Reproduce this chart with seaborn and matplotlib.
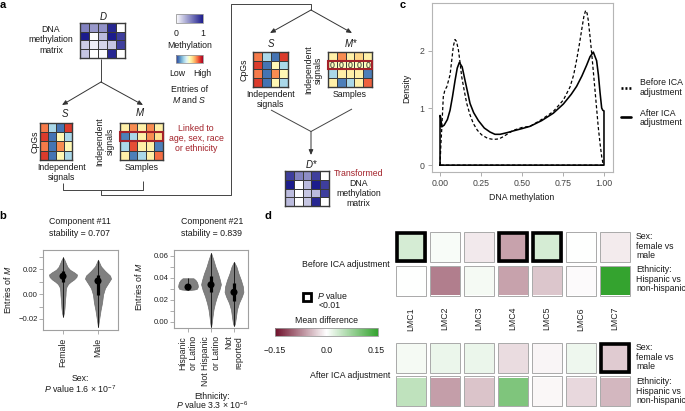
import numpy as np
import pandas as pd
import matplotlib
matplotlib.use("Agg")
import matplotlib.pyplot as plt
import seaborn as sns
from matplotlib.colors import LinearSegmentedColormap, Normalize
from matplotlib.cm import ScalarMappable
from matplotlib.patches import Rectangle

sns.set_theme(style="white")
plt.rcParams['font.family'] = ['Liberation Sans', 'DejaVu Sans']
plt.rcParams['mathtext.fontset'] = 'custom'
plt.rcParams['mathtext.rm'] = 'Liberation Sans'
plt.rcParams['mathtext.it'] = 'Liberation Sans:italic'
plt.rcParams['mathtext.bf'] = 'Liberation Sans:bold'
plt.rcParams['axes.unicode_minus'] = True

# ---------------- data ----------------
# panel a: schematic matrices
D_matrix = [[0.55, 0.45, 0.48, 0.95, 0.0],
            [1.0, 0.0, 0.3, 1.0, 0.85],
            [0.22, 0.08, 0.18, 0.25, 0.85],
            [0.25, 0.0, 0.03, 0.95, 0.0]]
S_matrix = [[0.78, 0.3, 0.1, 0.88],
            [0.88, 0.1, 0.52, 0.3],
            [0.78, 0.1, 0.75, 0.52],
            [0.88, 0.1, 0.52, 0.3]]
M_matrix = [[0.55, 0.75, 0.55, 0.75, 0.55],
            [0.12, 0.3, 0.55, 0.75, 0.6],
            [0.3, 0.85, 0.55, 0.55, 0.12],
            [0.55, 0.12, 0.3, 0.55, 0.8]]
Mstar_matrix = [[0.55, 0.75, 0.55, 0.62, 0.55],
                [0.5, 0.5, 0.5, 0.5, 0.5],
                [0.3, 0.55, 0.55, 0.55, 0.12],
                [0.55, 0.12, 0.3, 0.55, 0.82]]
Mstar_annot = [["", "", "", "", ""],
               ["0", "0", "0", "0", "0"],
               ["", "", "", "", ""],
               ["", "", "", "", ""]]
Dstar_matrix = [[0.85, 0.55, 0.5, 0.85, 0.0],
                [1.0, 0.0, 0.3, 1.0, 0.85],
                [0.3, 0.0, 0.25, 0.3, 0.85],
                [0.3, 0.0, 0.25, 0.95, 0.0]]

# panel b: violin profiles (y value, relative density)
sex_groups = ["Female", "Male"]
female_y = [0.0298, 0.0275, 0.0248, 0.0220, 0.0197, 0.0177, 0.0159, 0.0140, 0.0120,
            0.0100, 0.0082, 0.0060, 0.0044, 0.0020, -0.0008, -0.0050, -0.0110, -0.0150, -0.0182]
female_d = [0.0, 0.11, 0.21, 0.32, 0.50, 0.79, 1.0, 0.96, 0.79, 0.54, 0.36, 0.25, 0.21,
            0.19, 0.18, 0.14, 0.11, 0.07, 0.0]
male_y = [0.0279, 0.0250, 0.0225, 0.0188, 0.0150, 0.0126, 0.0087, 0.0049, -0.0003,
          -0.0067, -0.0130, -0.0210, -0.0267]
male_d = [0.0, 0.11, 0.21, 0.50, 0.86, 0.93, 0.71, 0.50, 0.36, 0.29, 0.18, 0.07, 0.0]
sex_median = [0.0145, 0.0107]
sex_q1 = [0.0100, -0.0005]
sex_q3 = [0.0185, 0.0155]
sex_min = [-0.0182, -0.0267]
sex_max = [0.0298, 0.0279]

eth_groups = ["Hispanic\nor Latino", "Not Hispanic\nor Latino", "Not\nreported"]
hisp_y = [0.0395, 0.0380, 0.0360, 0.0340, 0.0320, 0.0300, 0.0293, 0.0287]
hisp_d = [0.55, 0.75, 0.90, 0.97, 1.0, 0.90, 0.65, 0.0]
nonhisp_y = [0.0627, 0.0560, 0.0500, 0.0440, 0.0380, 0.0340, 0.0290, 0.0230, 0.0170,
             0.0110, 0.0045, -0.0016, -0.0050]
nonhisp_d = [0.0, 0.25, 0.45, 0.70, 0.90, 1.0, 0.85, 0.60, 0.40, 0.25, 0.15, 0.07, 0.0]
notrep_y = [0.0545, 0.0500, 0.0440, 0.0380, 0.0320, 0.0270, 0.0230, 0.0170, 0.0110,
            0.0045, -0.0016, -0.0039]
notrep_d = [0.0, 0.25, 0.45, 0.70, 0.90, 0.95, 0.80, 0.50, 0.30, 0.20, 0.10, 0.0]
eth_median = [0.0315, 0.0336, 0.0268]
eth_q1 = [0.0300, 0.0266, 0.0190]
eth_q3 = [0.0340, 0.0418, 0.0350]
eth_min = [0.0287, -0.0050, -0.0039]
eth_max = [0.0395, 0.0627, 0.0545]

# panel c: density outlines
after_x = [0.0, 0.0, 0.004, 0.010, 0.025, 0.045, 0.061, 0.076, 0.092, 0.105, 0.118, 0.135,
           0.152, 0.168, 0.183, 0.205, 0.234, 0.270, 0.305, 0.335, 0.366, 0.410, 0.447, 0.500,
           0.549, 0.620, 0.691, 0.752, 0.800, 0.833, 0.865, 0.894, 0.915, 0.935, 0.955, 0.966,
           0.976, 0.986, 0.993, 1.0, 1.0, 0.0]
after_y = [0.0, 0.87, 0.84, 0.67, 0.70, 0.80, 0.96, 1.20, 1.49, 1.70, 1.80, 1.72, 1.49, 1.28,
           1.08, 0.92, 0.78, 0.65, 0.58, 0.54, 0.54, 0.57, 0.60, 0.64, 0.68, 0.78, 0.91, 1.07,
           1.24, 1.38, 1.56, 1.75, 1.90, 1.98, 1.83, 1.58, 1.27, 1.00, 0.96, 0.95, 0.0, 0.0]
before_x = [0.0, 0.005, 0.010, 0.020, 0.030, 0.041, 0.061, 0.072, 0.081, 0.091, 0.100, 0.112,
            0.122, 0.132, 0.148, 0.163, 0.183, 0.203, 0.228, 0.254, 0.290, 0.325, 0.360, 0.386,
            0.447, 0.500, 0.549, 0.620, 0.691, 0.752, 0.793, 0.815, 0.833, 0.850, 0.864, 0.877,
            0.888, 0.897, 0.904, 0.915, 0.925, 0.945, 0.965, 0.976, 0.986, 0.996, 0.0]
before_y = [0.0, 0.35, 0.61, 1.20, 1.32, 1.37, 1.58, 1.85, 2.08, 2.20, 2.17, 2.02, 1.80, 1.55,
            1.30, 1.08, 0.88, 0.73, 0.61, 0.53, 0.47, 0.45, 0.46, 0.50, 0.61, 0.66, 0.68, 0.80,
            0.94, 1.14, 1.37, 1.58, 1.84, 2.12, 2.37, 2.60, 2.71, 2.66, 2.54, 2.25, 1.96, 1.32,
            0.67, 0.38, 0.15, 0.0, 0.0]
c_xticks = [0.0, 0.25, 0.5, 0.75, 1.0]
c_xticklabels = ["0.00", "0.25", "0.50", "0.75", "1.00"]
c_yticks = [0, 1, 2]

# panel d: mean differences
lmc = ["LMC1", "LMC2", "LMC3", "LMC4", "LMC5", "LMC6", "LMC7"]
before_sex = [0.031, 0.005, -0.014, -0.058, 0.031, 0.0, -0.012]
before_eth = [0.0, -0.08, 0.008, -0.058, -0.036, -0.003, 0.15]
after_sex = [0.008, 0.015, 0.015, -0.022, -0.006, 0.012, -0.032]
after_eth = [0.047, -0.06, -0.037, 0.094, -0.005, -0.024, -0.045]
before_sig = [[1, 0, 0, 1, 1, 0, 0], [0, 0, 0, 0, 0, 0, 0]]
after_sig = [[0, 0, 0, 0, 0, 0, 1], [0, 0, 0, 0, 0, 0, 0]]
row_labels = ["Sex:\nfemale vs\nmale", "Ethnicity:\nHispanic vs\nnon-hispanic"]

# ---------------- figure ----------------
W, H = 685, 411
fig = plt.figure(figsize=(W / 100, H / 100), dpi=100)
FS = 6.3
RED = '#a3222a'
LINE = '#3a3a3a'


def px_ax(x0, y0, x1, y1):
    return fig.add_axes([x0 / W, 1 - y1 / H, (x1 - x0) / W, (y1 - y0) / H])


meth_cmap = LinearSegmentedColormap.from_list("meth", ["#ffffff", "#1c1c8c"])
ms_cmap = plt.get_cmap("RdYlBu_r")
div_cmap = LinearSegmentedColormap.from_list("md", ["#6e0f2a", "#ffffff", "#34a32f"])


def matrix(x0, y0, x1, y1, data, cmap, annot=None):
    ax = px_ax(x0, y0, x1, y1)
    kw = {}
    if annot is not None:
        kw = dict(annot=np.array(annot), fmt="", annot_kws={'fontsize': 6.3, 'color': '#222222'})
    sns.heatmap(np.array(data), cmap=cmap, vmin=0, vmax=1, cbar=False, linewidths=0.7,
                linecolor=LINE, ax=ax, xticklabels=False, yticklabels=False, **kw)
    for sp in ax.spines.values():
        sp.set_visible(True)
        sp.set_color(LINE)
        sp.set_linewidth(1.0)
    return ax


# panel a matrices
matrix(80, 23, 125, 58, D_matrix, meth_cmap)
matrix(40, 123, 72, 160, S_matrix, ms_cmap)
axM = matrix(120, 123, 163, 160, M_matrix, ms_cmap)
axM.add_patch(Rectangle((0.02, 1.0), 4.96, 1.0, fill=False, ec=RED, lw=1.5, clip_on=False, zorder=5))
matrix(253, 52, 288, 87, S_matrix, ms_cmap)
axMs = matrix(328, 52, 372, 87, Mstar_matrix, ms_cmap, annot=Mstar_annot)
axMs.add_patch(Rectangle((0.02, 1.0), 4.96, 1.0, fill=False, ec=RED, lw=1.5, clip_on=False, zorder=5))
matrix(285, 171, 329, 206, Dstar_matrix, meth_cmap)

# panel a colorbars
for (y0, y1, cm) in [(14, 23, meth_cmap), (55, 63.5, ms_cmap)]:
    cax = px_ax(176, y0, 203, y1)
    cb = fig.colorbar(ScalarMappable(norm=Normalize(0, 1), cmap=cm), cax=cax, orientation='horizontal')
    cb.set_ticks([])
    cb.outline.set_edgecolor('#999999')
    cb.outline.set_linewidth(0.6)

# ---------------- panel b ----------------
def violin_panel(ax, groups, profiles, med, q1, q3, lo, hi, scale):
    for i, (ys, ds) in enumerate(profiles):
        ys = np.array(ys)
        ws = np.array(ds) * scale
        ax.fill_betweenx(ys, i - ws, i + ws, facecolor='#808080', edgecolor='#6e6e6e', lw=0.5, zorder=2)
    pos = np.arange(len(groups))
    ax.vlines(pos, lo, hi, color='#1a1a1a', lw=0.7, zorder=3)
    ax.vlines(pos, q1, q3, color='black', lw=2.3, zorder=4)
    sns.scatterplot(x=pos, y=med, ax=ax, color='black', s=26, zorder=5, edgecolor='none', legend=False)
    ax.set_xticks(pos)
    ax.set_xticklabels(groups, rotation=90, multialignment='right')
    for sp in ax.spines.values():
        sp.set_visible(True)
        sp.set_color('#a0a0a0')
        sp.set_linewidth(0.8)
    ax.tick_params(which='both', length=2.6, width=0.6, color='#a0a0a0', labelcolor='#222222',
                   left=True, bottom=True, pad=1.2)
    ax.tick_params(axis='y', labelsize=5.6)
    ax.tick_params(axis='x', labelsize=FS, pad=3)
    ax.set_xlabel("")
    ax.set_ylabel("")


axb1 = px_ax(43, 250, 118, 330)
violin_panel(axb1, sex_groups, [(female_y, female_d), (male_y, male_d)],
             sex_median, sex_q1, sex_q3, sex_min, sex_max, 0.40)
axb1.set_xlim(-0.571, 1.571)
axb1.set_ylim(-0.0289, 0.0357)
axb1.set_yticks([-0.02, 0.0, 0.02])
axb1.set_yticklabels(["\u22120.02", "0.00", "0.02"])
axb1.set_yticks([-0.01, 0.01, 0.03], minor=True)

axb2 = px_ax(174, 250, 248, 328)
violin_panel(axb2, eth_groups, [(hisp_y, hisp_d), (nonhisp_y, nonhisp_d), (notrep_y, notrep_d)],
             eth_median, eth_q1, eth_q3, eth_min, eth_max, 0.43)
axb2.set_xlim(-0.61, 2.61)
axb2.set_ylim(-0.0057, 0.0652)
axb2.set_yticks([0.0, 0.02, 0.04, 0.06])
axb2.set_yticklabels(["0.00", "0.02", "0.04", "0.06"])
axb2.set_yticks([0.01, 0.03, 0.05], minor=True)

# ---------------- panel c ----------------
axc = px_ax(432, 3, 613, 172)
sns.lineplot(x=before_x, y=before_y, sort=False, estimator=None, ax=axc, color='black',
             lw=0.9, linestyle=(0, (2.6, 1.8)))
sns.lineplot(x=after_x, y=after_y, sort=False, estimator=None, ax=axc, color='black', lw=1.15)
axc.set_xlim(-0.049, 1.055)
axc.set_ylim(-0.12, 2.84)
axc.set_xticks(c_xticks)
axc.set_xticklabels(c_xticklabels)
axc.set_yticks(c_yticks)
for sp in axc.spines.values():
    sp.set_visible(True)
    sp.set_color('#b5b5b5')
    sp.set_linewidth(0.8)
axc.tick_params(length=3.2, width=0.6, color='#a0a0a0', labelcolor='#444444', labelsize=FS,
                left=True, bottom=True, pad=2.2)
axc.set_xlabel("")
axc.set_ylabel("")

# ---------------- panel d ----------------
def diff_heat(x0, y0, x1, y1, rows, sig, show_x):
    ax = px_ax(x0, y0, x1, y1)
    df = pd.DataFrame(rows, columns=lmc)
    sns.heatmap(df, cmap=div_cmap, vmin=-0.15, vmax=0.15, cbar=False, linewidths=2.2,
                linecolor='white', ax=ax, xticklabels=lmc if show_x else False, yticklabels=False)
    for i in range(len(rows)):
        for j in range(len(lmc)):
            ax.add_patch(Rectangle((j + 0.045, i + 0.045), 0.91, 0.91, fill=False,
                                   ec='#a9a9a9', lw=0.7, zorder=3))
            if sig[i][j]:
                ax.add_patch(Rectangle((j + 0.085, i + 0.085), 0.83, 0.83, fill=False,
                                       ec='black', lw=2.6, zorder=4))
    if show_x:
        ax.tick_params(axis='x', length=0, pad=6.8, labelsize=FS, labelcolor='#222222')
        plt.setp(ax.get_xticklabels(), rotation=90)
    return ax


diff_heat(394, 230.5, 632, 297.5, [before_sex, before_eth], before_sig, True)
diff_heat(394, 341, 632, 408, [after_sex, after_eth], after_sig, False)

cax = px_ax(275, 328, 378, 336)
cb = fig.colorbar(ScalarMappable(norm=Normalize(-0.15, 0.15), cmap=div_cmap), cax=cax,
                  orientation='horizontal')
cb.set_ticks([])
cb.outline.set_edgecolor('#9a9a9a')
cb.outline.set_linewidth(0.6)

# ---------------- overlay (schematic lines and text) ----------------
ov = fig.add_axes([0, 0, 1, 1])
ov.set_xlim(0, W)
ov.set_ylim(H, 0)
ov.axis('off')
ov.patch.set_alpha(0)


def T(x, y, s, **kw):
    kw.setdefault('ha', 'center')
    kw.setdefault('va', 'center')
    kw.setdefault('fontsize', FS)
    kw.setdefault('color', '#1a1a1a')
    ov.text(x, y, s, **kw)


def L(xs, ys):
    ov.plot(xs, ys, color='#444444', lw=0.7, solid_capstyle='butt')


def A(x0, y0, x1, y1):
    ov.annotate('', xy=(x1, y1), xytext=(x0, y0),
                arrowprops=dict(arrowstyle='-|>,head_length=0.5,head_width=0.22', color='#333333',
                                lw=0.7, shrinkA=0, shrinkB=0, mutation_scale=6))


# panel labels
for lab, x, y in [("a", 3, 5), ("b", 3, 216), ("c", 403, 5), ("d", 268, 216)]:
    T(x, y, lab, fontsize=8, fontweight='bold', ha='center', color='black')

# panel a text
T(103, 16, r"$\it{D}$", fontsize=7)
T(51, 40, "DNA\nmethylation\nmatrix", linespacing=1.25)
T(176.5, 34, "0")
T(202.5, 34, "1")
T(189.5, 46, "Methylation")
T(177, 74, "Low")
T(202, 74, "High")
T(189.5, 89, "Entries of")
T(189.5, 99.5, r"$\it{M}$ and $\it{S}$")
L([101, 101], [59, 82])
A(101, 82, 62, 105)
A(101, 82, 143, 105)
T(65, 113, r"$\it{S}$", fontsize=7)
T(140, 112, r"$\it{M}$", fontsize=7)
T(35, 141.5, "CpGs", rotation=90)
T(62, 172.5, "Independent\nsignals", linespacing=1.15)
T(105, 141.5, "Independent\nsignals", rotation=90, linespacing=1.1)
T(141.5, 167, "Samples")
T(196, 138.5, "Linked to\nage, sex, race\nor ethnicity", color=RED, linespacing=1.2)
L([63, 63, 143, 143], [183, 190.5, 190.5, 181])
L([101, 101, 231.5, 231.5, 311, 311], [190.5, 195, 195, 4, 4, 10])
A(311, 10, 270, 33)
A(311, 10, 352, 33)
T(271, 43, r"$\it{S}$", fontsize=7)
T(351, 43, r"$\it{M}$*", fontsize=7)
T(244, 70, "CpGs", rotation=90)
T(270.5, 99.5, "Independent\nsignals", linespacing=1.15)
T(313.5, 70, "Independent\nsignals", rotation=90, linespacing=1.1)
T(350, 94.5, "Samples")
L([271, 311, 352], [110, 131.5, 109])
A(311, 131.5, 311, 155)
T(311, 164, r"$\it{D}$*", fontsize=7)
T(358.5, 173, "Transformed", color=RED)
T(358.5, 193.5, "DNA\nmethylation\nmatrix", linespacing=1.2)

# panel b text
T(80, 221.5, "Component #11")
T(80, 233, "stability = 0.707")
T(212, 221.5, "Component #21")
T(212, 233, "stability = 0.839")
T(8, 290, r"Entries of $\it{M}$", rotation=90)
T(139, 287, r"Entries of $\it{M}$", rotation=90)
T(80, 378.5, "Sex:")
T(80, 389, r"$\it{P}$ value 1.6 × 10$^{-7}$")
T(212, 396.5, "Ethnicity:")
T(212, 405.5, r"$\it{P}$ value 3.3 × 10$^{-6}$")

# panel c text
T(406.5, 88, "Density", rotation=90)
T(522, 197, "DNA methylation")
ov.plot([621.5, 631], [88.3, 88.3], color='black', lw=1.9, linestyle=(0, (0.75, 0.75)))
ov.plot([621.5, 631], [117.5, 117.5], color='black', lw=1.9)
T(640, 87.5, "Before ICA\nadjustment", ha='left', linespacing=1.05)
T(640, 118, "After ICA\nadjustment", ha='left', linespacing=1.05)

# panel d text
T(390, 264, "Before ICA adjustment", ha='right')
T(390, 375, "After ICA adjustment", ha='right')
T(636, 246, row_labels[0], ha='left', va='center', linespacing=1.1)
T(636, 279, row_labels[1], ha='left', va='center', linespacing=1.1)
T(636, 357, row_labels[0], ha='left', va='center', linespacing=1.1)
T(636, 391, row_labels[1], ha='left', va='center', linespacing=1.1)
ov.add_patch(Rectangle((303.5, 292.5), 8, 8, fc='white', ec='black', lw=2.0))
T(317, 295.5, r"$\it{P}$ value", ha='left')
T(319, 305.5, "<0.01", ha='left')
T(327, 320, "Mean difference")
T(275, 350, "\u22120.15")
T(327, 350, "0.0")
T(376, 350, "0.15")

fig.savefig("out.png", dpi=100)
